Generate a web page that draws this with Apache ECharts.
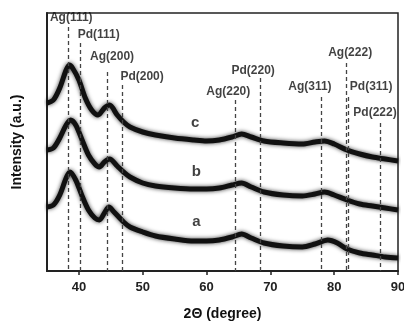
<!DOCTYPE html>
<html>
<head>
<meta charset="utf-8">
<script src="https://cdn.jsdelivr.net/npm/echarts@6/dist/echarts.min.js"></script>
<style>
  html, body { margin: 0; padding: 0; background: #fff; }
  #main { width: 404px; height: 322px; }
</style>
</head>
<body>
<div id="main"></div>
<script>
// 2Theta positions (degree) sampled along the curves
const thetaC = [35, 36, 37, 38, 38.5, 39, 40, 41, 42, 43, 44, 44.8, 46, 47, 48, 50, 52, 55, 58, 60, 62, 64, 65.5, 67, 69, 72, 75, 77, 78.5, 80, 82, 84, 86, 88, 90]
const curveC = [168, 171, 183, 201, 206, 203, 191, 173, 161, 156, 163, 166, 156, 149, 144, 139, 136, 133, 131, 130, 131, 134, 137, 134, 130, 128, 127, 129, 130, 127, 121, 117, 114, 112, 110]

const thetaB = [35, 36, 37, 38, 38.7, 39.5, 40.5, 41.5, 42.5, 43.2, 44, 44.8, 46, 47, 48, 50, 52, 55, 58, 60, 62, 64, 65.5, 67, 69, 72, 75, 77, 78.5, 80, 82, 84, 86, 88, 90]
const curveB = [121, 123, 133, 146, 151, 146, 131, 116, 107, 104, 109, 112, 105, 99, 94, 88, 85, 83, 82, 82, 83, 86, 88, 84, 79, 76, 75, 77, 79, 76, 71, 67, 65, 63, 61]

const thetaA = [35, 36, 37, 38, 38.6, 39.5, 40.5, 41.5, 42.5, 43.2, 44, 44.7, 45.5, 47, 48, 50, 52, 55, 58, 60, 62, 64, 65.5, 67, 69, 72, 75, 77, 79, 80.5, 82, 84, 86, 88, 90]
const curveA = [64, 66, 76, 93, 99, 91, 75, 61, 53, 51, 58, 64, 59, 49, 44, 39, 35, 32, 30, 30, 31, 34, 37, 33, 28, 25, 24, 27, 31, 28, 22, 18, 16, 14, 13]

// reflections: name, position, top of the dashed marker
const peakNames = ['Ag(111)', 'Pd(111)', 'Ag(200)', 'Pd(200)', 'Ag(220)', 'Pd(220)', 'Ag(311)', 'Ag(222)', 'Pd(311)', 'Pd(222)']
const peakTheta = [38.3, 40.2, 44.45, 46.8, 64.5, 68.4, 77.9, 81.9, 82.2, 87.2]
const peakTop = [244, 228, 199, 186, 171, 193, 174, 208, 174, 148]
// where each reflection name sits
const peakLabelTheta = [38.8, 43.1, 45.2, 49.9, 63.4, 67.3, 76.2, 82.5, 85.8, 86.4]
const peakLabelY = [253, 236, 214, 194, 179, 200, 184, 218, 184, 158]

const sampleNames = ['a', 'b', 'c']
const sampleTheta = [58.4, 58.4, 58.2]
const sampleY = [49, 99, 148]

const xTicks = [40, 50, 60, 70, 80, 90]

const font = 'Liberation Sans, Arial, sans-serif'

let myChart = echarts.init(document.getElementById('main'))

const curveStyle = {
  color: '#111',
  width: 5,
  shadowBlur: 4,
  shadowColor: 'rgba(0,0,0,0.75)'
}

const makeCurve = (name, xs, ys) => ({
  name: name,
  type: 'line',
  smooth: 0.3,
  symbol: 'none',
  lineStyle: curveStyle,
  data: xs.map((x, i) => [x, ys[i]]),
  z: 3
})

myChart.setOption({
  animation: false,
  grid: {
    left: 47,
    right: 6,
    top: 13,
    bottom: 51,
    outerBoundsMode: 'none',
    containLabel: false,
    show: true,
    borderColor: '#222',
    borderWidth: 1.5
  },
  xAxis: {
    type: 'value',
    min: 35,
    max: 90,
    name: '2\u0398 (degree)',
    nameLocation: 'middle',
    nameGap: 36,
    nameTextStyle: { fontFamily: font, fontWeight: 'bold', fontSize: 14, color: '#111' },
    axisLine: { lineStyle: { color: '#222', width: 2 } },
    axisTick: { customValues: xTicks, length: 4, lineStyle: { color: '#222', width: 1.5 } },
    axisLabel: { customValues: xTicks, fontFamily: font, fontWeight: 'bold', fontSize: 13, color: '#222', margin: 10 },
    splitLine: { show: false }
  },
  yAxis: {
    type: 'value',
    min: 0,
    max: 258,
    name: 'Intensity (a.u.)',
    nameLocation: 'middle',
    nameGap: 23,
    nameRotate: 90,
    nameTextStyle: { fontFamily: font, fontWeight: 'bold', fontSize: 14, color: '#111' },
    axisLine: { show: true, lineStyle: { color: '#222', width: 2 } },
    axisTick: { show: false },
    axisLabel: { show: false },
    splitLine: { show: false }
  },
  series: [
    makeCurve('a', thetaA, curveA),
    makeCurve('b', thetaB, curveB),
    makeCurve('c', thetaC, curveC),
    {
      name: 'peaks',
      type: 'line',
      data: [],
      markLine: {
        silent: true,
        symbol: ['none', 'none'],
        label: { show: false },
        lineStyle: { color: '#444', type: [4, 3], width: 1.3 },
        data: peakTheta.map((t, i) => [{ coord: [t, peakTop[i]] }, { coord: [t, 0] }])
      }
    },
    {
      name: 'peakNames',
      type: 'scatter',
      symbolSize: 0,
      z: 5,
      label: {
        show: true,
        position: 'inside',
        formatter: p => peakNames[p.dataIndex],
        fontFamily: font,
        fontWeight: 'bold',
        fontSize: 12,
        color: '#111'
      },
      data: peakLabelTheta.map((t, i) => [t, peakLabelY[i]])
    },
    {
      name: 'samples',
      type: 'scatter',
      symbolSize: 0,
      z: 5,
      label: {
        show: true,
        position: 'inside',
        formatter: p => sampleNames[p.dataIndex],
        fontFamily: font,
        fontWeight: 'bold',
        fontSize: 15,
        color: '#111'
      },
      data: sampleTheta.map((t, i) => [t, sampleY[i]])
    }
  ]
})
</script>
</body>
</html>
